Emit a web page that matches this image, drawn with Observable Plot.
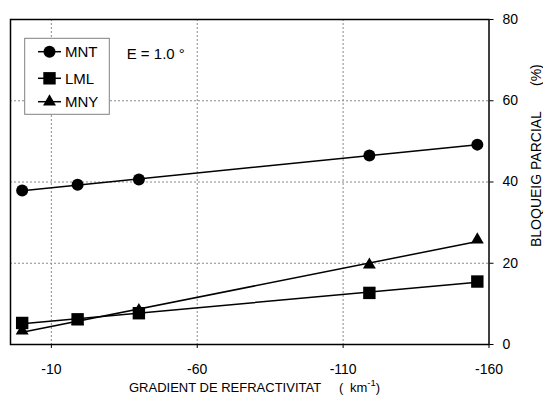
<!DOCTYPE html>
<html><head><meta charset="utf-8">
<script src="https://cdn.jsdelivr.net/npm/d3@7"></script>
<script src="https://cdn.jsdelivr.net/npm/@observablehq/plot@0.6"></script>
<style>
body{margin:0;background:#fff}
#chart{position:relative;width:543px;height:403px}
svg{font-family:"Liberation Sans",Arial,sans-serif}
</style>
</head><body><div id="chart"></div>
<script>
const gradient = [0, -19, -40, -119, -156];
const mnt = [37.9, 39.3, 40.6, 46.5, 49.2];
const lml = [5.3, 6.2, 7.7, 12.7, 15.5];
const mny = [3.4, 5.7, 8.4, 19.6, 25.8];
const seriesNames = ["MNT", "LML", "MNY"];
const seriesSymbols = ["circle", "square", "triangle"];
const seriesR = [6, 7, 4.8];
const xTicks = [-10, -60, -110, -160];
const yTicks = [0, 20, 40, 60, 80];
const xLabel = "GRADIENT DE REFRACTIVITAT";
const xUnit = "km";
const xUnitExp = "-1";
const yLabel = "BLOQUEIG PARCIAL";
const yUnit = "(%)";
const annotation = "E = 1.0 °";

const values = [mnt, lml, mny];
const data = seriesNames.flatMap((s, i) => gradient.map((g, j) => ({series: s, x: g, y: values[i][j]})));

const W = 543, H = 403;
const plot = Plot.plot({
  width: W, height: H,
  marginLeft: 10, marginRight: 54.5, marginTop: 19, marginBottom: 59,
  style: {fontFamily: "Liberation Sans, Arial, sans-serif", fontSize: "14px", color: "#000", background: "#fff"},
  x: {domain: [4, -160]},
  y: {domain: [0, 80]},
  marks: [
    Plot.gridX(xTicks.slice(0, 3), {stroke: "#8a8a8a", strokeOpacity: 1, strokeDasharray: "2,2"}),
    Plot.gridY(yTicks.slice(1, 4), {stroke: "#8a8a8a", strokeOpacity: 1, strokeDasharray: "2,2"}),
    Plot.axisX({ticks: xTicks, tickSize: 4, tickPadding: 16, tickFormat: d => String(d), label: null, stroke: "#000"}),
    Plot.axisY({anchor: "right", ticks: yTicks, tickSize: 4, tickPadding: 9.5, tickFormat: d => String(d), label: null, textAnchor: "start"}),
    Plot.frame({stroke: "#000", strokeWidth: 1.5}),
    Plot.linearRegressionY(data, {x: "x", y: "y", z: "series", stroke: "#000", strokeWidth: 1.5, ci: 0}),
    ...seriesNames.map((s, i) => Plot.dot(data.filter(d => d.series === s), {x: "x", y: "y", symbol: seriesSymbols[i], r: seriesR[i], fill: "#000", stroke: "none"}))
  ]
});
document.getElementById("chart").appendChild(plot);

const svg = d3.select(plot);
const ov = svg.append("g").attr("text-anchor", "start");
// legend
ov.append("rect").attr("x", 24.7).attr("y", 38.3).attr("width", 84.6).attr("height", 76)
  .attr("fill", "#fff").attr("stroke", "#808080").attr("stroke-width", 1);
const rowY = [51.7, 78.3, 101.7];
const symMap = {circle: d3.symbolCircle, square: d3.symbolSquare, triangle: d3.symbolTriangle};
seriesNames.forEach((s, i) => {
  ov.append("line").attr("x1", 38).attr("x2", 61).attr("y1", rowY[i]).attr("y2", rowY[i]).attr("stroke", "#000").attr("stroke-width", 1.5);
  ov.append("path").attr("d", d3.symbol(symMap[seriesSymbols[i]], Math.PI * seriesR[i] * seriesR[i])())
    .attr("transform", `translate(49.5,${rowY[i]})`).attr("fill", "#000");
  ov.append("text").attr("x", 65).attr("y", rowY[i]).attr("dy", "0.35em").attr("font-size", 15).attr("text-anchor", "start").text(s);
});
ov.append("text").attr("x", 126.7).attr("y", 53.3).attr("dy", "0.35em").attr("font-size", 15).attr("text-anchor", "start").text(annotation);

// x title
const xt = ov.append("text").attr("y", 392).attr("font-size", 13).attr("text-anchor", "start");
xt.append("tspan").attr("x", 129).text(xLabel);
xt.append("tspan").attr("x", 339).text("(");
xt.append("tspan").attr("x", 350).text(xUnit);
xt.append("tspan").attr("dy", -6).attr("font-size", 9.5).text(xUnitExp);
xt.append("tspan").attr("dy", 6).text(")");

// y title
ov.append("text").attr("transform", "translate(536,247) rotate(-90)").attr("dy", "0.35em").attr("font-size", 14).attr("text-anchor", "start").text(yLabel);
ov.append("text").attr("transform", "translate(536,86) rotate(-90)").attr("dy", "0.35em").attr("font-size", 14).attr("text-anchor", "start").text(yUnit);
</script>
</body></html>
